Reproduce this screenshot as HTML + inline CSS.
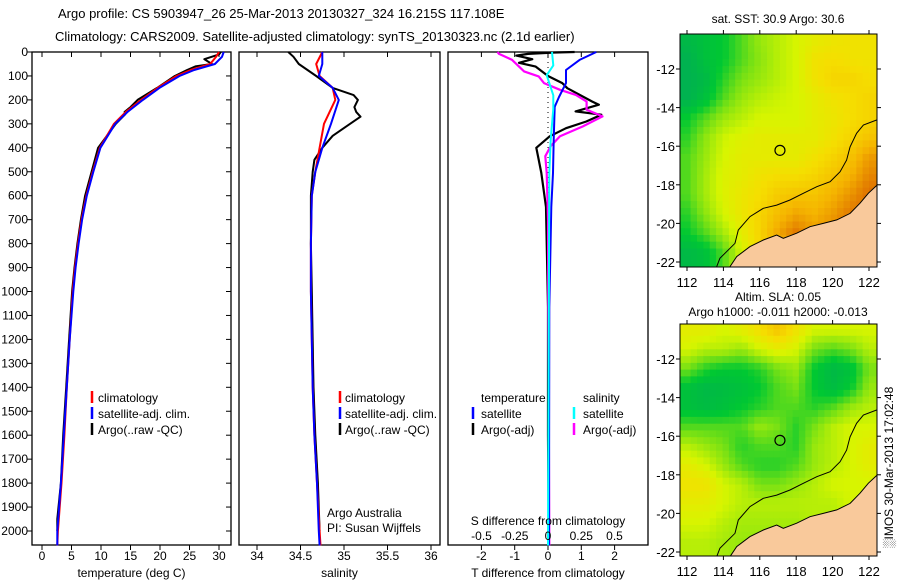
<!DOCTYPE html>
<html><head><meta charset="utf-8"><style>
body{margin:0;background:#fff}
svg{display:block;font-family:"Liberation Sans",sans-serif;font-size:12px}
</style></head><body>
<svg id="fig" width="900" height="580" viewBox="0 0 900 580" xmlns="http://www.w3.org/2000/svg">
<g font-size="13">
<text x="58" y="18">Argo profile: CS 5903947_26 25-Mar-2013 20130327_324 16.215S 117.108E</text>
<text x="55" y="41">Climatology: CARS2009. Satellite-adjusted climatology: synTS_20130323.nc (2.1d earlier)</text>
</g>
<g id="plots"></g>
<text transform="translate(893,548) rotate(-90)" font-size="12">░IMOS 30-Mar-2013 17:02:48</text>
</svg>
<script>
// ---------- profile data ----------
const tClimDepth=[0,20,50,75,100,150,200,250,300,400,500,600,700,800,900,1000,1200,1400,1600,1800,2000,2060];
const tClimVal=[30.0,29.5,28.5,25.2,22.8,19.6,16.8,14.2,12.2,9.8,8.6,7.5,6.7,6.1,5.6,5.2,4.7,4.2,3.8,3.3,2.7,2.6];
const tSatVal=[30.8,30.5,29.3,25.8,23.3,19.9,17.1,14.5,12.4,9.9,8.7,7.6,6.8,6.2,5.7,5.3,4.7,4.2,3.7,3.2,2.6,2.6];
const tArgoDepth=[0,10,30,50,60,75,100,150,200,230,250,260,300,350,400,500,600,700,800,900,1000,1200,1400,1600,1800,1950,2000];
const tArgoVal=[30.3,30.0,27.5,28.8,26,24.6,22.5,19.5,16.2,15.0,14.0,14.1,12.5,11.0,9.5,8.4,7.3,6.6,6.0,5.5,5.1,4.6,4.1,3.6,3.2,2.6,2.6];
const sClimDepth=[0,50,100,150,200,300,400,500,600,800,1000,1200,1400,1600,1800,2000,2060];
const sClimVal=[34.75,34.68,34.72,34.87,34.90,34.77,34.72,34.67,34.63,34.62,34.62,34.63,34.64,34.66,34.69,34.72,34.73];
const sSatVal=[34.75,34.75,34.71,34.87,34.94,34.85,34.75,34.67,34.63,34.62,34.62,34.63,34.64,34.66,34.69,34.71,34.72];
const sArgoDepth=[0,20,50,100,150,180,200,230,250,270,300,350,400,450,500,600,800,1000,1400,1600,1800,2000];
const sArgoVal=[34.36,34.42,34.48,34.68,34.87,35.11,35.16,35.12,35.14,35.19,35.07,34.87,34.75,34.66,34.64,34.62,34.62,34.63,34.65,34.67,34.7,34.72];
const dTSatDepth=[0,33,75,130,188,229,367,505,647,1065,2060];
const dTSatVal=[1.45,0.95,0.54,0.54,0.33,0.2,0.17,0.15,0.1,0.04,0.03];
const dTArgoDepth=[0,2,8,15,30,45,61,100,130,151,207,220,248,262,290,318,352,400,435,505,647,1065,1600,2000];
const dTArgoVal=[0.8,0.2,-0.6,-0.95,-0.47,-0.87,-0.37,0.0,0.43,0.58,1.33,1.53,0.83,1.6,1.15,0.54,0.05,-0.35,-0.3,-0.2,-0.06,0,0,0.02];
const dSArgoDepth=[0,7,33,81,102,130,158,179,207,241,269,311,352,393,435,505,700,2060];
const dSArgoVal=[-0.38,-0.37,-0.27,-0.18,-0.07,-0.03,0.09,0.21,0.29,0.29,0.41,0.26,0.09,0.02,-0.02,-0.01,0,0.01];
const dSSatDepth=[0,56,97,181,237,367,505,2060];
const dSSatVal=[0.03,0.04,-0.01,0.04,0.04,0.02,0.01,0.0];
const depthTicks=[0,100,200,300,400,500,600,700,800,900,1000,1100,1200,1300,1400,1500,1600,1700,1800,1900,2000];
const tempTicks=[0,5,10,15,20,25,30];
const salTicks=[34,34.5,35,35.5,36];
const dTTicks=[-2,-1,0,1,2];
const dSTicks=[-0.5,-0.25,0,0.25,0.5];
const dSTickLabels=["-0.5","-0.25","0","0.25","0.5"];
// ---------- map data (rows north->south lat -10.5..-21.5, cols lon 112..122) ----------
const mapLons=[112,113,114,115,116,117,118,119,120,121,122];
const mapLats=[-10.5,-11.5,-12.5,-13.5,-14.5,-15.5,-16.5,-17.5,-18.5,-19.5,-20.5,-21.5];
const sstGrid=[
[0.1,0.15,0.2,0.3,0.4,0.45,0.5,0.55,0.58,0.6,0.6],
[0.05,0.15,0.2,0.3,0.38,0.45,0.5,0.6,0.62,0.6,0.6],
[0.05,0.1,0.25,0.35,0.4,0.45,0.5,0.6,0.65,0.65,0.62],
[0.05,0.15,0.3,0.4,0.45,0.48,0.5,0.55,0.6,0.62,0.65],
[0.2,0.3,0.4,0.45,0.5,0.5,0.5,0.55,0.58,0.62,0.65],
[0.25,0.38,0.48,0.52,0.55,0.55,0.55,0.55,0.6,0.65,0.7],
[0.3,0.4,0.5,0.55,0.55,0.55,0.55,0.6,0.65,0.7,0.8],
[0.3,0.42,0.52,0.55,0.6,0.62,0.62,0.65,0.7,0.75,0.85],
[0.3,0.42,0.52,0.58,0.62,0.68,0.7,0.7,0.75,0.82,0.9],
[0.25,0.38,0.5,0.58,0.65,0.72,0.78,0.75,0.8,0.88,0.9],
[0.2,0.3,0.42,0.55,0.65,0.78,0.88,0.8,0.85,0.9,0.9],
[0.1,0.15,0.3,0.5,0.65,0.7,0.8,0.8,0.8,0.8,0.8]];
const slaGrid=[
[0.55,0.55,0.5,0.55,0.62,0.7,0.6,0.5,0.5,0.5,0.5],
[0.5,0.45,0.45,0.4,0.5,0.55,0.5,0.35,0.3,0.35,0.45],
[0.35,0.25,0.2,0.2,0.25,0.35,0.4,0.2,0.1,0.15,0.35],
[0.15,0.1,0.12,0.15,0.2,0.3,0.35,0.2,0.12,0.2,0.4],
[0.15,0.12,0.15,0.2,0.25,0.3,0.3,0.25,0.3,0.4,0.45],
[0.3,0.3,0.3,0.3,0.4,0.35,0.25,0.35,0.45,0.5,0.5],
[0.45,0.4,0.35,0.25,0.3,0.3,0.25,0.4,0.45,0.5,0.55],
[0.55,0.5,0.4,0.3,0.25,0.25,0.3,0.4,0.45,0.5,0.55],
[0.6,0.6,0.5,0.45,0.35,0.35,0.4,0.45,0.5,0.5,0.5],
[0.55,0.55,0.5,0.45,0.45,0.45,0.45,0.45,0.45,0.5,0.5],
[0.5,0.5,0.45,0.42,0.42,0.42,0.42,0.45,0.45,0.45,0.45],
[0.45,0.45,0.42,0.4,0.4,0.4,0.4,0.4,0.4,0.4,0.4]];
const coastLon=[114.36,114.73,115.46,116.19,116.93,117.29,118.03,118.76,119.49,120.23,120.96,121.5,121.96,122.46];
const coastLat=[-22.24,-21.72,-21.2,-20.86,-20.6,-20.77,-20.51,-20.17,-20.0,-19.82,-19.48,-18.96,-18.44,-18.0];
const contourLon=[113.63,113.81,114.64,114.82,115.46,116.19,116.93,117.66,118.39,119.13,119.86,120.41,120.77,120.96,121.32,121.69,122.42];
const contourLat=[-22.24,-21.81,-21.03,-20.34,-19.65,-19.22,-19.05,-18.79,-18.44,-18.1,-17.84,-17.32,-16.72,-16.03,-15.33,-14.9,-14.64];
const argoLon=117.108, argoLat=-16.215;
const mapLonTicks=[112,114,116,118,120,122];
const mapLatTicks=[-12,-14,-16,-18,-20,-22];

const NS='http://www.w3.org/2000/svg';
const root=document.getElementById('plots');
function mk(tag,attrs,parent){const e=document.createElementNS(NS,tag);for(const k in attrs)e.setAttribute(k,attrs[k]);(parent||root).appendChild(e);return e;}
function txt(x,y,s,anchor,parent,size){const e=mk('text',{x:x,y:y,'text-anchor':anchor||'start'},parent);if(size)e.setAttribute('font-size',size);e.textContent=s;return e;}

// depth axis shared
const Y0=52, PXD=0.2395, BOT=545;
const yD=d=>Y0+d*PXD;

function panel(name,x0,x1,xs,ticks,labels,xtitle,leftLabels){
  const g=mk('g',{});
  
  
  const r=mk('rect',{x:x0,y:Y0,width:x1-x0,height:BOT-Y0,fill:'#fff',stroke:'#000','stroke-width':1.3},g);
  
  
  ticks.forEach((t,i)=>{
    const x=xs(t);
    mk('line',{x1:x,x2:x,y1:BOT,y2:BOT+5,stroke:'#000'},g);
    mk('line',{x1:x,x2:x,y1:Y0,y2:Y0+5,stroke:'#000'},g);
    const l=txt(x,560,labels[i],'middle',g);
    
    
  });
  const tt=txt((x0+x1)/2,577,xtitle,'middle',g);
  
  
  if(leftLabels){
    depthTicks.forEach(d=>{
      const y=yD(d);
      mk('line',{x1:x0-5,x2:x0,y1:y,y2:y,stroke:'#000'},g);
      mk('line',{x1:x1-5,x2:x1,y1:y,y2:y,stroke:'#000'},g);
      const l=txt(x0-4,y+4,String(d),'end',g);
      
      
    });
  }
  return g;
}
function series(g,name,depths,vals,xs,color,w){
  const pts=depths.map((d,i)=>xs(vals[i]).toFixed(1)+','+yD(d).toFixed(1)).join(' ');
  const p=mk('polyline',{points:pts,fill:'none',stroke:color,'stroke-width':w||2,'stroke-linejoin':'round'},g);
  
  
}
function legend(g,x,y,color,label,markX){
  const m=mk('line',{x1:markX,x2:markX,y1:y-11,y2:y+1,stroke:color,'stroke-width':2.5},g);
  
  
  const t=txt(x,y,label,'start',g);
  
  
}

// Panel 1 temperature
const xT=v=>42+v*5.9;
const g1=panel('temperature-panel',32,231,xT,tempTicks,tempTicks.map(String),'temperature (deg C)',true);
series(g1,'temp-argo-line',tArgoDepth,tArgoVal,xT,'#000');
series(g1,'temp-climatology-line',tClimDepth,tClimVal,xT,'#f00');
series(g1,'temp-satellite-line',tClimDepth,tSatVal,xT,'#00f');
legend(g1,98,402,'#f00','climatology',92);
legend(g1,98,418,'#00f','satellite-adj. clim.',92);
legend(g1,98,434,'#000','Argo(..raw -QC)',92);

// Panel 2 salinity
const xS=v=>257+(v-34)*87;
const g2=panel('salinity-panel',239,440,xS,salTicks,["34","34.5","35","35.5","36"],'salinity',false);
series(g2,'sal-argo-line',sArgoDepth,sArgoVal,xS,'#000');
series(g2,'sal-climatology-line',sClimDepth,sClimVal,xS,'#f00');
series(g2,'sal-satellite-line',sClimDepth,sSatVal,xS,'#00f');
legend(g2,345,402,'#f00','climatology',340);
legend(g2,345,418,'#00f','satellite-adj. clim.',340);
legend(g2,345,434,'#000','Argo(..raw -QC)',340);
[['Argo Australia',517],['PI: Susan Wijffels',532]].forEach(a=>{const t=txt(327,a[1],a[0],'start',g2);});

// Panel 3 differences
const xdT=v=>548+v*33.3;
const xdS=v=>548+v*133;
const g3=panel('difference-panel',448,648,xdT,dTTicks,dTTicks.map(String),'T difference from climatology',false);
mk('line',{x1:548,x2:548,y1:Y0,y2:BOT,stroke:'#000','stroke-dasharray':'1,4'},g3);
series(g3,'dT-argo-line',dTArgoDepth,dTArgoVal,xdT,'#000',2.2);
series(g3,'dS-argo-line',dSArgoDepth,dSArgoVal,xdS,'#f0f',2.2);
series(g3,'dT-satellite-line',dTSatDepth,dTSatVal,xdT,'#00f',2);
series(g3,'dS-satellite-line',dSSatDepth,dSSatVal,xdS,'#0ff',2);
{const t=txt(481,402,'temperature','start',g3);
 const s=txt(583,402,'salinity','start',g3);}
legend(g3,481,418,'#00f','satellite',473);
legend(g3,481,434,'#000','Argo(-adj)',473);
legend(g3,583,418,'#0ff','satellite',574);
legend(g3,583,434,'#f0f','Argo(-adj)',574);
{const t=txt(548,525,'S difference from climatology','middle',g3);}
dSTicks.forEach((v,i)=>{const t=txt(xdS(v),540,dSTickLabels[i],'middle',g3);});

// ---------- maps ----------
const stops=[[0,[0,170,90]],[0.2,[0,200,50]],[0.35,[120,225,20]],[0.5,[215,245,0]],[0.62,[245,222,0]],[0.75,[245,180,0]],[0.88,[225,120,0]],[1,[180,60,0]]];
function cmap(v){v=Math.max(0,Math.min(1,v));for(let i=1;i<stops.length;i++){if(v<=stops[i][0]){const a=stops[i-1],b=stops[i],f=(v-a[0])/(b[0]-a[0]);return 'rgb('+a[1].map((c,k)=>Math.round(c+(b[1][k]-c)*f)).join(',')+')';}}return 'rgb(180,60,0)';}
function sample(grid,lon,lat){
  let fx=(lon-mapLons[0])/(mapLons[1]-mapLons[0]);let fy=(mapLats[0]-lat)/(mapLats[0]-mapLats[1]);
  fx=Math.max(0,Math.min(mapLons.length-1.001,fx));fy=Math.max(0,Math.min(mapLats.length-1.001,fy));
  const i=Math.floor(fx),j=Math.floor(fy),a=fx-i,b=fy-j;
  return grid[j][i]*(1-a)*(1-b)+grid[j][i+1]*a*(1-b)+grid[j+1][i]*(1-a)*b+grid[j+1][i+1]*a*b;
}
function drawMap(name,grid,top,bot,titles){
  const L=680,R=877,lx=v=>687+(v-112)*18.2,ly=v=>top+35+(-12-v)*19.3;
  const g=mk('g',{});
  
  
  const cid=name+'-clip';
  const cp=mk('clipPath',{id:cid},g);mk('rect',{x:L,y:top,width:R-L,height:bot-top},cp);
  const cg=mk('g',{'clip-path':'url(#'+cid+')'},g);
  const step=0.35;
  for(let lat=-10.1;lat>-22.6;lat-=step){for(let lon=111.5;lon<122.6;lon+=step){
    const c=mk('rect',{x:lx(lon).toFixed(1),y:ly(lat).toFixed(1),width:(step*18.2+0.6).toFixed(1),height:(step*19.3+0.6).toFixed(1),fill:cmap(sample(grid,lon+step/2,lat-step/2))},cg);
    
    
  }}
  const landPts=coastLon.map((v,i)=>lx(v).toFixed(1)+','+ly(coastLat[i]).toFixed(1));
  landPts.push(R+5+','+(bot+5),lx(coastLon[0])+','+(bot+5));
  const land=mk('polygon',{points:landPts.join(' '),fill:'#f9c99b',stroke:'#000','stroke-width':1},cg);
  
  
  const ct=mk('polyline',{points:contourLon.map((v,i)=>lx(v).toFixed(1)+','+ly(contourLat[i]).toFixed(1)).join(' '),fill:'none',stroke:'#000','stroke-width':1},cg);
  
  
  const circ=mk('circle',{cx:lx(argoLon),cy:ly(argoLat),r:5,fill:'none',stroke:'#000','stroke-width':1.2},cg);
  
  
  const fr=mk('rect',{x:L,y:top,width:R-L,height:bot-top,fill:'none',stroke:'#000','stroke-width':1},g);
  
  
  mapLonTicks.forEach(v=>{const x=lx(v);mk('line',{x1:x,x2:x,y1:bot,y2:bot+4,stroke:'#000'},g);mk('line',{x1:x,x2:x,y1:top-4,y2:top,stroke:'#000'},g);
    const t=txt(x,bot+20,String(v),'middle',g,13);});
  mapLatTicks.forEach(v=>{const y=ly(v);mk('line',{x1:L-4,x2:L,y1:y,y2:y,stroke:'#000'},g);mk('line',{x1:R,x2:R+4,y1:y,y2:y,stroke:'#000'},g);
    const t=txt(L-5,y+5,String(v),'end',g,13);});
  titles.forEach(a=>{const t=txt(778,a[1],a[0],'middle',g);});
}
drawMap('sst-map',sstGrid,34,267,[['sat. SST: 30.9 Argo: 30.6',23]]);
drawMap('sla-map',slaGrid,324,556,[['Altim. SLA: 0.05',301],['Argo h1000: -0.011 h2000: -0.013',316]]);
</script>
</body></html>
